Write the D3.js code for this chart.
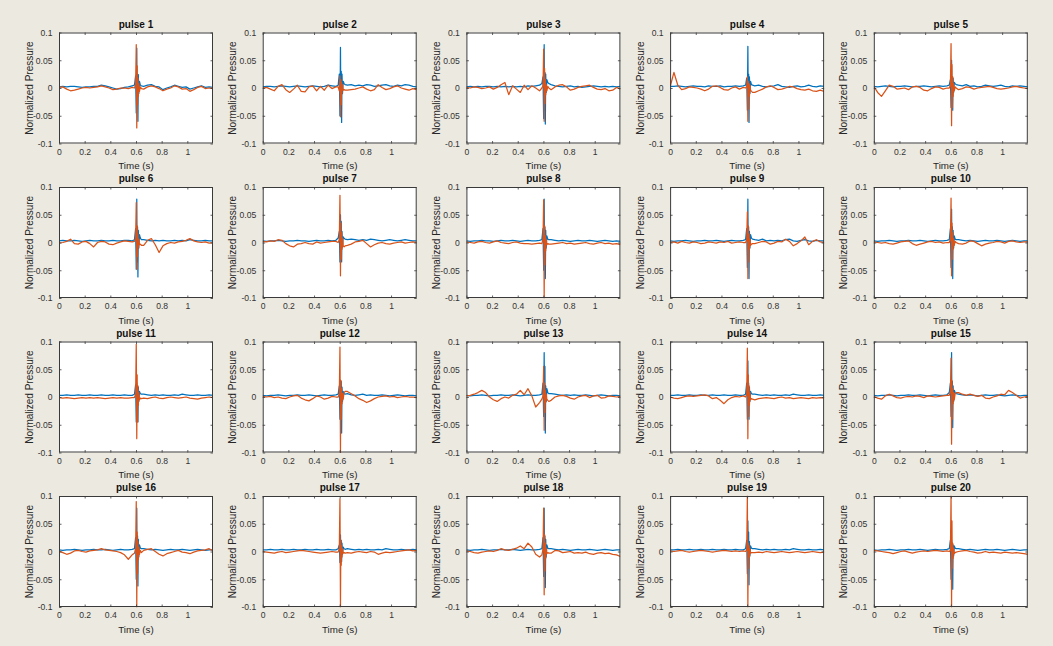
<!DOCTYPE html>
<html>
<head>
<meta charset="utf-8">
<script src="https://cdn.jsdelivr.net/npm/d3@7"></script>
<style>
  html, body { margin: 0; padding: 0; background: #ECE9E0; }
  svg { display: block; }
  text { font-family: "Liberation Sans", Arial, Helvetica, sans-serif; }
</style>
</head>
<body>
<svg id="chart" width="1053" height="646"></svg>
<script>
// ---------------- data ----------------
// sample times (s)
const TIME = [0,.03,.06,.09,.12,.15,.18,.21,.24,.27,.30,.33,.36,.39,.42,.45,.48,.51,.54,.57,
  .588,.597,.602,.606,.609,.612,.615,.618,.622,.627,.634,.642,
  .66,.69,.72,.75,.78,.81,.84,.87,.90,.93,.96,.99,1.02,1.05,1.08,1.11,1.14,1.17,1.20];

const TITLES = ["pulse 1","pulse 2","pulse 3","pulse 4","pulse 5","pulse 6","pulse 7","pulse 8","pulse 9","pulse 10",
  "pulse 11","pulse 12","pulse 13","pulse 14","pulse 15","pulse 16","pulse 17","pulse 18","pulse 19","pulse 20"];

const X_TICKS = [0, 0.2, 0.4, 0.6, 0.8, 1];
const X_TICK_LABELS = ["0", "0.2", "0.4", "0.6", "0.8", "1"];
const Y_TICKS = [-0.1, -0.05, 0, 0.05, 0.1];
const Y_TICK_LABELS = ["-0.1", "-0.05", "0", "0.05", "0.1"];
const X_LABEL = "Time (s)";
const Y_LABEL = "Normalized Pressure";

// normalized pressure values, in units of 0.001
const VALUE_UNIT = 0.001;
const BLUE_VALUES = [
 [2,3,2,3,3,2,1,2,2,3,3,5,4,2,0,-2,-1,1,2,4, 5,22,-45,72,-30,25,-60,24,-10,12,5,4, 3,5,6,3,2,-3,0,2,5,3,1,2,-2,0,2,4,1,2,1],
 [2,3,3,2,3,4,3,2,3,4,3,2,3,4,3,2,3,5,4,3, 5,25,-50,73,-35,30,-62,25,-10,12,8,6, 5,6,4,5,4,6,5,3,4,5,6,4,3,5,4,6,5,3,2],
 [2,3,2,3,2,3,3,2,3,2,3,2,3,2,3,2,4,3,4,5, 8,20,-55,78,-40,28,-65,25,-8,15,10,8, 6,4,3,2,3,4,2,3,1,2,3,4,3,2,3,2,3,2,3],
 [3,3,4,3,2,3,4,3,3,2,4,3,3,4,2,3,3,4,3,4, 5,18,-40,75,-30,25,-62,20,-10,12,6,5, 4,5,3,2,3,4,6,3,2,1,3,4,2,3,5,3,2,4,3],
 [3,2,3,4,3,2,3,3,4,3,2,3,3,4,3,2,3,4,3,4, 5,15,-35,50,-25,20,-40,18,-8,10,8,6, 5,4,6,3,4,2,3,5,4,3,4,5,3,2,4,3,4,3,2],
 [3,4,3,3,4,3,2,3,4,3,3,4,3,3,4,3,3,4,4,3, 5,25,-48,78,-35,28,-62,22,-10,14,8,5, 5,4,3,4,3,4,3,3,4,3,4,3,5,4,3,3,4,3,3],
 [3,2,3,3,4,3,2,3,3,4,3,3,2,3,4,3,3,4,3,4, 8,20,-35,50,-25,38,-35,20,-8,10,8,6, 5,6,5,4,5,4,6,5,4,3,4,5,4,3,4,5,4,3,3],
 [3,2,3,3,4,3,3,2,3,4,3,3,4,3,2,3,4,3,3,4, 5,25,-50,78,-30,28,-65,22,-10,12,6,5, 5,4,3,4,3,2,3,4,3,3,4,3,2,3,4,3,2,3,2],
 [3,2,3,3,4,3,2,3,3,4,3,3,4,3,2,3,4,3,3,4, 5,25,-45,78,-30,28,-65,20,-10,14,8,6, 5,4,6,3,4,3,4,3,5,6,3,2,4,5,3,2,4,3,3],
 [3,2,3,3,4,3,2,3,3,4,3,3,4,3,2,3,4,3,3,4, 5,25,-45,60,-30,28,-65,22,-10,12,6,5, 5,4,3,4,3,2,3,4,3,3,4,3,2,3,4,3,2,3,3],
 [3,3,4,3,3,4,3,3,4,3,3,4,3,3,4,3,3,4,3,3, 5,22,-45,25,-20,20,-45,18,-8,10,6,5, 5,4,3,4,3,4,3,3,4,3,5,4,3,3,4,3,3,4,3],
 [3,2,3,3,4,3,2,3,3,4,3,3,4,3,2,3,4,3,3,4, 5,20,-40,30,-25,28,-65,18,-8,10,6,5, 6,4,3,4,5,3,4,3,3,4,3,2,3,4,3,2,3,3,2],
 [3,2,3,3,4,3,2,3,3,4,3,3,4,3,2,3,4,3,3,4, 5,25,-35,80,-30,55,-65,20,-8,15,8,6, 6,5,4,3,4,3,4,3,3,4,3,2,3,4,3,2,3,3,2],
 [3,3,4,3,3,4,3,3,4,3,3,4,3,3,4,3,3,4,3,3, 5,25,-40,65,-30,25,-40,18,-8,10,6,5, 5,4,3,4,3,4,3,3,4,3,5,4,3,3,4,3,3,4,3],
 [3,2,3,3,4,3,2,3,3,4,3,3,4,3,2,3,4,3,3,4, 8,25,-35,80,-30,28,-55,20,-8,12,8,6, 5,4,3,4,3,2,3,4,3,3,4,3,2,3,4,3,2,3,3],
 [3,2,3,3,4,3,2,3,3,4,3,3,4,3,2,3,4,3,3,4, 5,25,-50,78,-30,28,-62,22,-10,12,6,5, 5,4,3,4,3,2,3,4,3,3,4,3,2,3,4,3,2,3,3],
 [3,3,4,3,3,4,3,3,4,3,3,4,3,3,4,3,3,4,3,3, 5,12,-20,30,-15,20,-18,15,-5,8,5,4, 5,4,3,4,3,4,3,3,4,3,5,4,3,3,4,3,3,4,3],
 [3,2,3,3,4,3,2,3,3,4,3,3,4,3,2,3,4,3,3,4, 5,25,-45,78,-30,28,-65,22,-10,12,6,5, 5,4,3,4,3,2,3,4,3,3,4,3,2,3,4,3,2,3,3],
 [3,3,4,3,3,4,3,3,4,3,3,4,3,3,4,3,3,4,3,3, 5,20,-40,55,-25,35,-60,18,-8,10,6,5, 5,4,3,4,3,4,3,3,4,3,5,4,3,3,4,3,3,4,3],
 [3,2,3,3,4,3,2,3,3,4,3,3,4,3,2,3,4,3,3,4, 5,20,-50,20,-25,15,-68,12,-8,10,6,5, 5,4,3,4,3,2,3,4,3,3,4,3,2,3,4,3,2,3,3]
];
const ORANGE_VALUES = [
 [1,2,-2,-5,-4,-2,0,1,0,1,2,4,2,0,-3,-2,0,0,-1,1, 0,6,78,-72,40,-30,18,-15,8,-6,2,-1, -2,2,4,2,-1,-5,-2,0,4,2,-2,-1,-6,-3,1,3,-1,0,0],
 [0,1,-2,-5,3,6,-3,-8,-2,5,-6,-7,2,4,-5,3,-4,5,-1,2, 2,-5,22,-52,15,-30,10,-10,6,-4,-3,-4, -4,-3,-2,0,2,-2,-5,-3,6,1,-3,-1,2,4,0,-2,-4,-1,-3],
 [1,0,2,1,-1,0,2,-2,1,6,10,-12,4,-2,-8,5,-3,4,0,-5, 0,4,70,-60,35,-28,15,-12,6,-5,3,0, -3,2,5,6,2,-4,-2,1,3,4,5,1,-2,-3,-1,-5,-4,1,-2],
 [2,28,5,-3,-1,2,1,0,-2,-5,-2,3,4,1,-3,-4,0,2,-2,1, 0,3,20,-60,12,-38,8,-15,5,-4,-6,-8, -8,-5,-2,2,4,1,-3,-2,0,3,2,-1,-3,-4,-2,-5,-6,-4,-6],
 [3,-8,-15,-5,5,3,-2,-1,0,-3,2,3,1,-4,-5,-1,2,1,-2,0, 0,5,80,-68,42,-35,20,-15,8,-5,2,0, -3,-1,2,1,-2,0,1,2,3,1,-1,-2,-1,0,2,3,1,0,-1],
 [-1,0,2,6,-2,-3,1,2,-2,-8,0,2,1,-3,-4,-1,1,3,2,1, 2,8,72,-48,30,-25,15,-10,6,-4,-3,-5, -5,4,7,-4,-18,-6,-2,0,-1,1,2,4,7,3,1,0,1,-1,0],
 [2,1,3,2,5,4,-2,-6,-8,-3,-2,0,-2,-3,1,-1,0,1,2,2, 0,5,85,-60,35,-30,18,-12,8,-6,-8,-6, -5,-3,1,2,4,-2,-8,-4,-1,0,-2,-3,-1,0,1,-1,0,1,0],
 [1,0,-1,1,2,0,-1,1,3,0,-1,-2,0,1,-1,-2,-2,-3,-2,-1, -2,6,77,-100,30,-40,12,-15,6,-4,-2,-3, -3,-2,-1,0,-2,-1,-3,-2,-1,0,-2,-3,-1,0,-2,-1,-3,-2,-4],
 [0,1,-1,2,0,-1,1,0,-2,-1,1,0,-1,1,0,2,-1,0,1,0, 0,5,55,-65,30,-35,15,-12,6,-5,-3,-2, -2,0,2,1,-3,-1,2,1,6,2,-6,-2,3,10,-4,2,5,1,0],
 [1,0,-1,0,-2,-3,-1,1,2,3,-2,-5,-3,-1,1,2,0,1,-1,0, 0,6,80,-60,35,-30,18,-12,7,-5,2,0, -2,-3,-1,3,2,-2,-6,-3,-1,0,2,1,-1,2,3,1,0,1,1],
 [-1,-2,-1,-2,-3,-2,-1,-2,-1,-2,-1,-2,-3,-2,-1,-2,-1,-2,-2,-1, -1,5,95,-75,40,-45,20,-15,8,-5,-2,-3, -2,-3,-1,0,-2,-3,-1,0,-1,-2,-1,0,-2,-3,-4,-2,-1,0,-1],
 [1,0,1,-1,0,-2,-3,0,2,3,-2,-5,-7,-3,2,0,-4,-2,1,0, 0,5,90,-100,30,-40,15,-12,6,-4,8,10, 10,6,2,-3,-6,-10,-7,-3,0,1,2,0,1,-1,0,1,0,0,-1],
 [2,3,5,8,12,8,0,-5,-8,-3,0,-2,3,5,12,4,15,2,-18,-10, -4,2,55,-60,25,-28,12,-10,5,-4,-6,-8, -6,0,2,3,1,-2,-4,0,2,3,-1,2,3,-2,-1,2,1,0,1],
 [0,-2,-3,-1,1,2,1,2,3,4,2,-3,-1,-6,-12,-5,-1,1,0,2, 0,5,88,-75,40,-35,20,-15,8,-5,-3,-4, -5,-3,-2,-1,-2,-3,-1,0,-2,-1,-3,-2,-1,-2,-3,-1,-2,-1,-2],
 [1,-2,-4,2,5,2,-1,-2,0,1,0,2,1,-1,2,1,0,1,2,3, 3,10,70,-85,30,-40,15,-12,8,-5,6,8, 8,5,3,5,3,1,3,-2,-3,0,2,5,4,12,8,3,-2,0,1],
 [1,-2,-5,-3,1,2,0,-1,1,2,3,5,3,2,1,0,-2,-6,-14,-6, -3,5,90,-100,35,-40,18,-15,8,-5,2,-2, 2,4,5,0,-5,-8,-4,-2,0,2,-1,-2,-4,-1,1,2,3,5,1],
 [0,-1,-2,-3,-1,0,-2,-1,0,1,2,1,0,-1,-2,-3,-2,-1,0,-1, -1,5,95,-100,20,-25,10,-10,5,-3,-2,-3, -2,-3,-1,0,-1,-2,0,-1,-5,-3,-1,-2,-1,0,1,2,3,1,2],
 [1,0,-2,-3,-1,0,1,0,2,5,3,2,4,6,10,5,15,8,-5,-10, -6,4,78,-78,30,-35,15,-12,6,-4,-2,-3, -3,2,1,-2,-1,0,-3,-2,-3,-1,-4,-5,-3,-2,-4,-3,-5,-6,-9],
 [1,0,1,2,0,-1,0,1,2,1,0,-1,0,1,2,1,0,1,0,1, 0,3,100,-100,15,-30,10,-10,5,-3,-2,-2, -2,-1,-2,0,-1,-2,-1,0,-1,-2,-1,0,-1,-2,-1,0,-1,-2,-1],
 [2,1,0,-1,-2,-4,-2,0,1,-1,-3,-1,0,1,0,1,2,1,0,1, 0,2,100,-100,55,-30,15,-12,6,-4,-2,-1, 0,1,2,0,-1,-3,-2,0,-2,-1,-2,-3,-1,-2,-3,-2,-3,-4,-5]
];
const SERIES = [
  { values: BLUE_VALUES, color: "#0072BD" },
  { values: ORANGE_VALUES, color: "#D95319" }
];

// ---------------- layout ----------------
const NCOLS = 5;
const AX_LEFT0 = 59, AX_STEP_X = 203.7, AX_W = 154;
const AX_TOP0 = 32.5, AX_STEP_Y = 154.5, AX_H = 111;

const svg = d3.select("#chart");
const x = d3.scaleLinear().domain([0, 1.2]).range([0, AX_W]);
const y = d3.scaleLinear().domain([-0.1, 0.1]).range([AX_H, 0]);
const line = d3.line().x(d => x(d[0])).y(d => y(d[1]));

const defs = svg.append("defs");
defs.append("clipPath").attr("id", "plotclip")
  .append("rect").attr("x", 0).attr("y", -0.5).attr("width", AX_W).attr("height", AX_H + 1);

TITLES.forEach((title, i) => {
  const col = i % NCOLS, row = Math.floor(i / NCOLS);
  const g = svg.append("g")
    .attr("transform", `translate(${AX_LEFT0 + col * AX_STEP_X},${AX_TOP0 + row * AX_STEP_Y})`);

  g.append("rect").attr("width", AX_W).attr("height", AX_H).attr("fill", "#fff");

  const plot = g.append("g").attr("clip-path", "url(#plotclip)");
  SERIES.forEach(s => {
    const pts = TIME.map((t, k) => [t, s.values[i][k] * VALUE_UNIT]);
    plot.append("path").datum(pts)
      .attr("d", line)
      .attr("fill", "none")
      .attr("stroke", s.color)
      .attr("stroke-width", 1.25)
      .attr("stroke-linejoin", "round");
  });

  // axes (ticks inside, mirrored)
  const bottom = g.append("g").attr("transform", `translate(0,${AX_H})`)
    .call(d3.axisBottom(x).tickValues(X_TICKS).tickSize(-2.5).tickPadding(5)
      .tickFormat((d, k) => X_TICK_LABELS[k]));
  const left = g.append("g")
    .call(d3.axisLeft(y).tickValues(Y_TICKS).tickSize(-2.5).tickPadding(6.5)
      .tickFormat((d, k) => Y_TICK_LABELS[k]));
  const top = g.append("g")
    .call(d3.axisTop(x).tickValues(X_TICKS).tickSize(-2.5).tickFormat(""));
  const right = g.append("g").attr("transform", `translate(${AX_W},0)`)
    .call(d3.axisRight(y).tickValues(Y_TICKS).tickSize(-2.5).tickFormat(""));

  [bottom, left, top, right].forEach(a => {
    a.select(".domain").remove();
    a.selectAll(".tick line").attr("stroke", "#3a3a3a").attr("stroke-width", 0.8);
    a.selectAll(".tick text").attr("fill", "#333").attr("font-size", 8.6)
      .attr("font-family", '"Liberation Sans", Arial, sans-serif');
  });

  g.append("rect").attr("x", 0.5).attr("y", 0.5).attr("width", AX_W - 1).attr("height", AX_H - 1)
    .attr("fill", "none").attr("stroke", "#3a3a3a").attr("stroke-width", 1);

  g.append("text").attr("x", AX_W / 2).attr("y", -5)
    .attr("text-anchor", "middle").attr("font-size", 10).attr("font-weight", "bold")
    .attr("fill", "#111").text(title);

  g.append("text").attr("x", AX_W / 2).attr("y", AX_H + 25.5)
    .attr("text-anchor", "middle").attr("font-size", 9.8).attr("fill", "#262626").text(X_LABEL);

  g.append("text")
    .attr("transform", `translate(-26.5,${AX_H / 2}) rotate(-90)`)
    .attr("text-anchor", "middle").attr("font-size", 10).attr("fill", "#262626").text(Y_LABEL);
});
</script>
</body>
</html>
